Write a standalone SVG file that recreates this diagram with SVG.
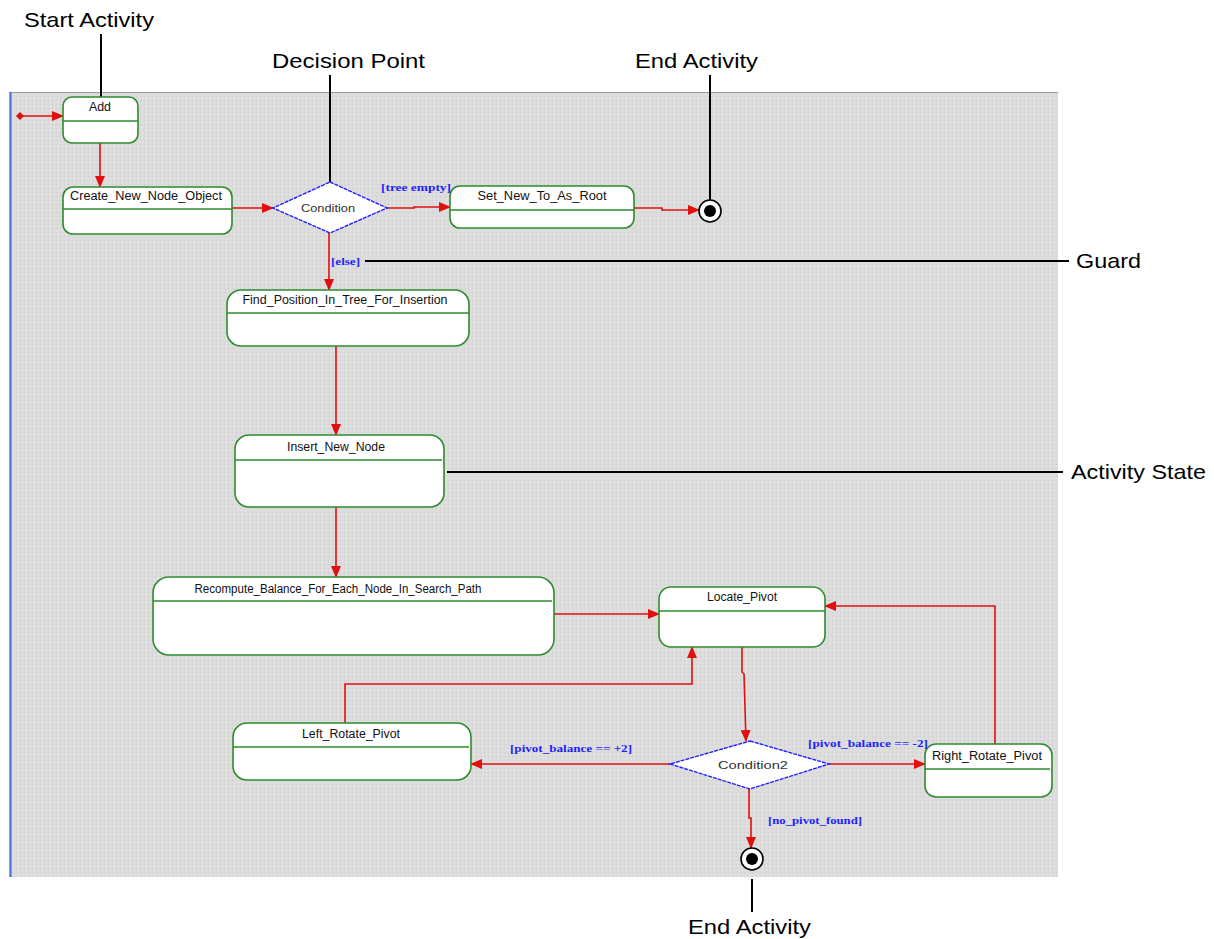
<svg xmlns="http://www.w3.org/2000/svg" width="1214" height="939" viewBox="0 0 1214 939">
  <style>
    .callout { font-family: "Liberation Sans", Arial, sans-serif; font-size: 21px; fill: #000; }
    .lead { stroke: #000; stroke-width: 2; fill: none; }
    .state { fill: #fff; stroke: #2e8b2e; stroke-width: 1.6; }
    .div { stroke: #2e8b2e; stroke-width: 1.6; }
    .name { font-family: "Liberation Sans", Arial, sans-serif; font-size: 12px; fill: #111; text-anchor: middle; }
    .cond { fill: #fff; stroke: #1f1fff; stroke-width: 1.4; stroke-dasharray: 4 1; }
    .condtxt { font-family: "Liberation Sans", Arial, sans-serif; font-size: 11.5px; fill: #333; text-anchor: middle; }
    .guard { font-family: "Liberation Serif", "Times New Roman", serif; font-size: 11px; font-weight: bold; fill: #1f1fff; }
    .flow { stroke: #e01010; stroke-width: 1.6; fill: none; }
  </style>
  <defs>
    <pattern id="dots" width="4" height="4" patternUnits="userSpaceOnUse">
      <rect width="4" height="4" fill="#dcdcdc"/>
      <rect x="0" y="0" width="1" height="1" fill="#cfcfcf"/>
      <rect x="2" y="2" width="1" height="1" fill="#e6e6e6"/>
    </pattern>
    <marker id="arr" markerWidth="12" markerHeight="10" refX="11" refY="5" orient="auto" markerUnits="userSpaceOnUse">
      <path d="M0,0 L12,5 L0,10 Z" fill="#e01010"/>
    </marker>
  </defs>

  <rect width="1214" height="939" fill="#fff"/>

  <!-- canvas -->
  <rect x="9" y="92" width="1049" height="785" fill="url(#dots)"/>
  <line x1="9" y1="92.5" x2="1058" y2="92.5" stroke="#9a9a9a" stroke-width="1"/>
  <line x1="10.5" y1="92" x2="10.5" y2="877" stroke="#4a6fd0" stroke-width="2"/>

  <!-- callouts -->
  <g id="callouts">
    <text class="callout" x="24" y="27" textLength="130" lengthAdjust="spacingAndGlyphs">Start Activity</text>
    <line class="lead" x1="101" y1="34" x2="101" y2="97"/>
    <text class="callout" x="272" y="68" textLength="153" lengthAdjust="spacingAndGlyphs">Decision Point</text>
    <line class="lead" x1="330" y1="75" x2="330" y2="182"/>
    <text class="callout" x="635" y="68" textLength="123" lengthAdjust="spacingAndGlyphs">End Activity</text>
    <line class="lead" x1="710" y1="75" x2="710" y2="200"/>
    <text class="callout" x="1076" y="268" textLength="65" lengthAdjust="spacingAndGlyphs">Guard</text>
    <line class="lead" x1="365" y1="261" x2="1069" y2="261"/>
    <text class="callout" x="1071" y="479" textLength="135" lengthAdjust="spacingAndGlyphs">Activity State</text>
    <line class="lead" x1="447" y1="472" x2="1063" y2="472"/>
    <text class="callout" x="688" y="934" textLength="123" lengthAdjust="spacingAndGlyphs">End Activity</text>
    <line class="lead" x1="752" y1="879" x2="752" y2="912"/>
  </g>

  <!-- connectors -->
  <g id="connectors">
    <line class="flow" x1="20" y1="116" x2="63" y2="116" marker-end="url(#arr)"/>
    <line class="flow" x1="100" y1="143" x2="100" y2="187" marker-end="url(#arr)"/>
    <line class="flow" x1="232" y1="208" x2="273" y2="208" marker-end="url(#arr)"/>
    <polyline class="flow" points="387,208 414,208 414,207 450,207" marker-end="url(#arr)"/>
    <polyline class="flow" points="634,208 662,208 662,210 699,210" marker-end="url(#arr)"/>
    <line class="flow" x1="329" y1="233" x2="329" y2="290" marker-end="url(#arr)"/>
    <line class="flow" x1="336" y1="346" x2="336" y2="435" marker-end="url(#arr)"/>
    <line class="flow" x1="336" y1="507" x2="336" y2="577" marker-end="url(#arr)"/>
    <line class="flow" x1="554" y1="614" x2="659" y2="614" marker-end="url(#arr)"/>
    <polyline class="flow" points="742,647 742,672 744,674 746,741" marker-end="url(#arr)"/>
    <line class="flow" x1="670" y1="764" x2="471" y2="764" marker-end="url(#arr)"/>
    <polyline class="flow" points="345,723 345,684 692,684 692,647" marker-end="url(#arr)"/>
    <line class="flow" x1="829" y1="764" x2="925" y2="764" marker-end="url(#arr)"/>
    <polyline class="flow" points="995,744 995,606 825,606" marker-end="url(#arr)"/>
    <polyline class="flow" points="749,789 749,818 751,818 751,848" marker-end="url(#arr)"/>
  </g>

  <!-- guards -->
  <g id="guards">
    <text class="guard" x="381" y="191" textLength="70" lengthAdjust="spacingAndGlyphs">[tree empty]</text>
    <text class="guard" x="331" y="265" textLength="29" lengthAdjust="spacingAndGlyphs">[else]</text>
    <text class="guard" x="510" y="752" textLength="122" lengthAdjust="spacingAndGlyphs">[pivot_balance == +2]</text>
    <text class="guard" x="808" y="747" textLength="120" lengthAdjust="spacingAndGlyphs">[pivot_balance == -2]</text>
    <text class="guard" x="768" y="824" textLength="94" lengthAdjust="spacingAndGlyphs">[no_pivot_found]</text>
  </g>

  <!-- initial node -->
  <g id="start">
    <path d="M20,112 L24,116 L20,120 L16,116 Z" fill="#e01010"/>
  </g>

  <g id="add">
    <rect class="state" x="63" y="97" width="75" height="46" rx="9"/>
    <line class="div" x1="63" y1="121" x2="138" y2="121"/>
    <text class="name" x="100" y="111" textLength="22" lengthAdjust="spacingAndGlyphs">Add</text>
  </g>

  <g id="create-new-node-object">
    <rect class="state" x="63" y="187" width="169" height="47" rx="10"/>
    <line class="div" x1="63" y1="209" x2="232" y2="209"/>
    <text class="name" x="146" y="200" textLength="152" lengthAdjust="spacingAndGlyphs">Create_New_Node_Object</text>
  </g>

  <g id="condition">
    <path class="cond" d="M330,182 L387,208 L330,233 L273,208 Z"/>
    <text class="condtxt" x="328" y="212" textLength="54" lengthAdjust="spacingAndGlyphs">Condition</text>
  </g>

  <g id="set-new-to-as-root">
    <rect class="state" x="450" y="186" width="184" height="42" rx="10"/>
    <line class="div" x1="450" y1="210" x2="634" y2="210"/>
    <text class="name" x="542" y="200" textLength="129" lengthAdjust="spacingAndGlyphs">Set_New_To_As_Root</text>
  </g>

  <g id="end-top">
    <circle cx="710" cy="211" r="11" fill="#fff" stroke="#000" stroke-width="1.6"/>
    <circle cx="710" cy="211" r="6" fill="#000"/>
  </g>

  <g id="find-position">
    <rect class="state" x="227" y="290" width="242" height="56" rx="14"/>
    <line class="div" x1="227" y1="313" x2="469" y2="313"/>
    <text class="name" x="345" y="304" textLength="205" lengthAdjust="spacingAndGlyphs">Find_Position_In_Tree_For_Insertion</text>
  </g>

  <g id="insert-new-node">
    <rect class="state" x="235" y="435" width="209" height="72" rx="14"/>
    <line class="div" x1="235" y1="460" x2="442" y2="460"/>
    <text class="name" x="336" y="451" textLength="98" lengthAdjust="spacingAndGlyphs">Insert_New_Node</text>
  </g>

  <g id="recompute-balance">
    <rect class="state" x="153" y="577" width="401" height="78" rx="16"/>
    <line class="div" x1="153" y1="601" x2="552" y2="601"/>
    <text class="name" x="338" y="593" textLength="287" lengthAdjust="spacingAndGlyphs">Recompute_Balance_For_Each_Node_In_Search_Path</text>
  </g>

  <g id="locate-pivot">
    <rect class="state" x="659" y="587" width="166" height="60" rx="12"/>
    <line class="div" x1="659" y1="611" x2="825" y2="611"/>
    <text class="name" x="742" y="601" textLength="70" lengthAdjust="spacingAndGlyphs">Locate_Pivot</text>
  </g>

  <g id="left-rotate-pivot">
    <rect class="state" x="233" y="723" width="238" height="57" rx="14"/>
    <line class="div" x1="233" y1="747" x2="469" y2="747"/>
    <text class="name" x="351" y="738" textLength="98" lengthAdjust="spacingAndGlyphs">Left_Rotate_Pivot</text>
  </g>

  <g id="condition2">
    <path class="cond" d="M750,741 L829,764 L750,789 L670,764 Z"/>
    <text class="condtxt" x="753" y="769" textLength="70" lengthAdjust="spacingAndGlyphs">Condition2</text>
  </g>

  <g id="right-rotate-pivot">
    <rect class="state" x="925" y="744" width="127" height="53" rx="11"/>
    <line class="div" x1="925" y1="769" x2="1050" y2="769"/>
    <text class="name" x="987" y="760" textLength="110" lengthAdjust="spacingAndGlyphs">Right_Rotate_Pivot</text>
  </g>

  <g id="end-bottom">
    <circle cx="752" cy="859" r="11" fill="#fff" stroke="#000" stroke-width="1.6"/>
    <circle cx="752" cy="859" r="6" fill="#000"/>
  </g>
</svg>
